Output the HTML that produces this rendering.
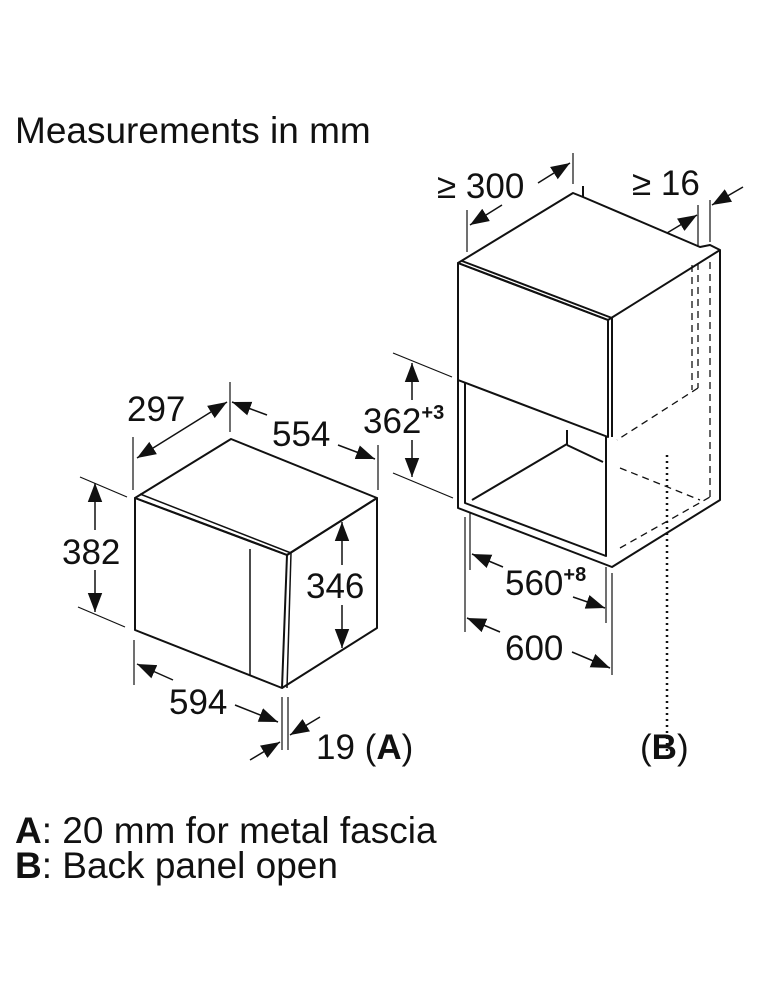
<!DOCTYPE html>
<html><head><meta charset="utf-8"><style>
html,body{margin:0;padding:0;background:#fff;}
svg{display:block;}
text{font-family:"Liberation Sans",sans-serif;fill:#111;}
</style></head><body>
<svg width="760" height="1000" viewBox="0 0 760 1000" xmlns="http://www.w3.org/2000/svg">
<defs>
<marker id="ar" viewBox="0 0 10 10" refX="10" refY="5" markerWidth="19" markerHeight="19" markerUnits="userSpaceOnUse" orient="auto-start-reverse">
<path d="M0,1.2 L10,5 L0,8.8 z" fill="#111"/></marker>
</defs>
<text x="15" y="143" font-size="37">Measurements in mm</text>

<g stroke="#111" stroke-width="2" fill="none" stroke-linejoin="round">
<path d="M135,498 L231,439 L377,498 L287,555 Z"/>
<path d="M135,498 L287,555 L282,688 L135,630 Z"/>
<path d="M287,555 L377,498 L377,628 L282,688"/>
<path d="M140,494 L291,553" stroke-width="1.5"/>
<path d="M291,553 L287,688" stroke-width="1.5"/>
<path d="M250,549 L250,675" stroke-width="1.5"/>
</g>
<g stroke="#111" stroke-width="1.2" fill="none">
<line x1="133" y1="437" x2="133" y2="490"/>
<line x1="230" y1="382" x2="230" y2="432"/>
<line x1="378" y1="445" x2="378" y2="490"/>
<line x1="80" y1="477" x2="127" y2="497"/>
<line x1="78" y1="607" x2="125" y2="627"/>
<line x1="134" y1="640" x2="134" y2="685"/>
<line x1="282" y1="697" x2="282" y2="750"/>
<line x1="288" y1="697" x2="288" y2="750"/>
</g>
<g stroke="#111" stroke-width="1.5" fill="none">
<line x1="137" y1="458" x2="227" y2="402" marker-start="url(#ar)" marker-end="url(#ar)"/>
<line x1="267" y1="415" x2="232" y2="402" marker-end="url(#ar)"/>
<line x1="338" y1="445" x2="375" y2="459" marker-end="url(#ar)"/>
<line x1="95" y1="530" x2="95" y2="483" marker-end="url(#ar)"/>
<line x1="95" y1="570" x2="95" y2="612" marker-end="url(#ar)"/>
<line x1="342" y1="565" x2="342" y2="522" marker-end="url(#ar)"/>
<line x1="342" y1="605" x2="342" y2="648" marker-end="url(#ar)"/>
<line x1="173" y1="680" x2="137" y2="664" marker-end="url(#ar)"/>
<line x1="235" y1="705" x2="278" y2="722" marker-end="url(#ar)"/>
<line x1="250" y1="760" x2="280" y2="742" marker-end="url(#ar)"/>
<line x1="320" y1="717" x2="290" y2="735" marker-end="url(#ar)"/>
</g>
<text x="127" y="421" font-size="35">297</text>
<text x="272" y="446" font-size="35">554</text>
<text x="62" y="564" font-size="35">382</text>
<text x="306" y="598" font-size="35">346</text>
<text x="169" y="714" font-size="35">594</text>
<text x="316" y="759" font-size="35">19 (<tspan font-weight="bold">A</tspan>)</text>

<g stroke="#111" stroke-width="2" fill="none" stroke-linejoin="round">
<path d="M458,263 L573,193 L583,197 L700,247 L710,245 L720,250 L608,320 Z"/>
<path d="M458,263 L608,320 L608,437 L458,380 Z"/>
<path d="M462,261 L612,318 L612,437"/>
<path d="M720,250 L720,500 L612,567 L458,508 L458,380"/>
<path d="M465,383 L465,503 L606,556 L606,437"/>
<path d="M472,500 L567,444 L567,430"/>
<path d="M567,445 L603,462"/>
<path d="M583,197 L583,186"/>
</g>
<g stroke="#111" stroke-width="1.3" fill="none" stroke-dasharray="7,5">
<line x1="692" y1="265" x2="692" y2="390"/>
<line x1="698" y1="263" x2="698" y2="388"/>
<line x1="698" y1="388" x2="617" y2="440"/>
<line x1="620" y1="468" x2="700" y2="500"/>
<line x1="620" y1="548" x2="710" y2="497"/>
<line x1="710" y1="262" x2="710" y2="497"/>
</g>
<line x1="667" y1="455" x2="667" y2="755" stroke="#111" stroke-width="2.5" stroke-dasharray="2,4"/>
<g stroke="#111" stroke-width="1.2" fill="none">
<line x1="467" y1="210" x2="467" y2="252"/>
<line x1="573" y1="153" x2="573" y2="184"/>
<line x1="698" y1="205" x2="698" y2="247"/>
<line x1="710" y1="200" x2="710" y2="242"/>
<line x1="393" y1="353" x2="452" y2="377"/>
<line x1="393" y1="473" x2="453" y2="498"/>
<line x1="470" y1="513" x2="470" y2="570"/>
<line x1="606" y1="567" x2="606" y2="623"/>
<line x1="465" y1="517" x2="465" y2="632"/>
<line x1="612" y1="573" x2="612" y2="675"/>
</g>
<g stroke="#111" stroke-width="1.5" fill="none">
<line x1="502" y1="205" x2="470" y2="225" marker-end="url(#ar)"/>
<line x1="538" y1="183" x2="570" y2="163" marker-end="url(#ar)"/>
<line x1="667" y1="233" x2="697" y2="215" marker-end="url(#ar)"/>
<line x1="743" y1="187" x2="712" y2="205" marker-end="url(#ar)"/>
<line x1="412" y1="400" x2="412" y2="363" marker-end="url(#ar)"/>
<line x1="412" y1="440" x2="412" y2="477" marker-end="url(#ar)"/>
<line x1="503" y1="567" x2="472" y2="554" marker-end="url(#ar)"/>
<line x1="573" y1="597" x2="605" y2="608" marker-end="url(#ar)"/>
<line x1="500" y1="632" x2="467" y2="618" marker-end="url(#ar)"/>
<line x1="572" y1="652" x2="610" y2="668" marker-end="url(#ar)"/>
</g>
<text x="437" y="198" font-size="35">≥ 300</text>
<text x="632" y="195" font-size="35">≥ 16</text>
<text x="363" y="433" font-size="35">362<tspan font-size="20" font-weight="bold" dy="-14">+3</tspan></text>
<text x="505" y="595" font-size="35">560<tspan font-size="20" font-weight="bold" dy="-14">+8</tspan></text>
<text x="505" y="660" font-size="35">600</text>
<text x="640" y="759" font-size="35">(<tspan font-weight="bold">B</tspan>)</text>

<text x="15" y="843" font-size="37"><tspan font-weight="bold">A</tspan>: 20 mm for metal fascia</text>
<text x="15" y="878" font-size="37"><tspan font-weight="bold">B</tspan>: Back panel open</text>
</svg>
</body></html>
